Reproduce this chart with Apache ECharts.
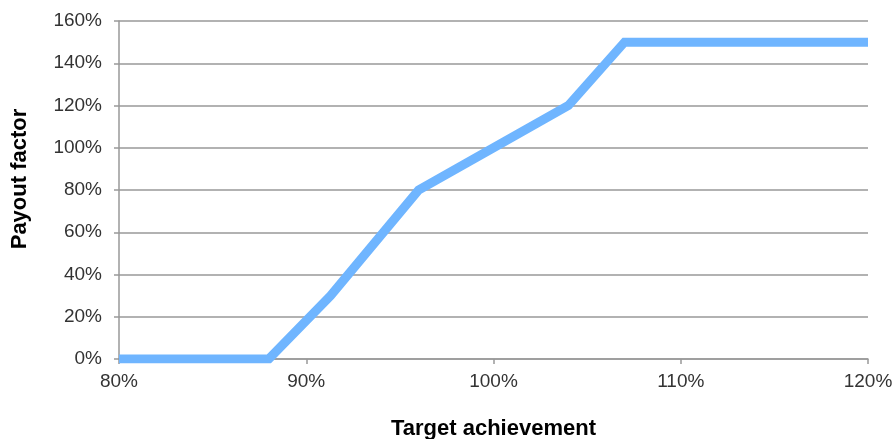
<!DOCTYPE html>
<html>
<head>
<meta charset="utf-8">
<script src="https://cdn.jsdelivr.net/npm/echarts@6/dist/echarts.min.js"></script>
<style>
  html, body { margin: 0; padding: 0; background: #fff; }
  #payoutChart { width: 896px; height: 439px; }
</style>
</head>
<body>
<div id="payoutChart"></div>
<script>
// target achievement (%) and payout factor (%)
var achievement = [80, 88, 91.3, 96, 100, 104, 107, 120]
var payout = [0, 0, 30, 80, 100, 120, 150, 150]

var points = achievement.map(function(x, i) {
  return [x, payout[i]]
})

var chart = echarts.init(document.getElementById('payoutChart'))
var option = {
  animation: false,
  textStyle: {
    fontFamily: 'Liberation Sans, Arial, sans-serif'
  },
  grid: {
    left: 119,
    right: 28,
    top: 21,
    bottom: 80,
    outerBoundsMode: 'none',
    containLabel: false
  },
  xAxis: {
    type: 'value',
    min: 80,
    max: 120,
    interval: 10,
    name: 'Target achievement',
    nameLocation: 'middle',
    nameGap: 59,
    nameTextStyle: {
      fontSize: 22,
      fontWeight: 'bold',
      color: '#000'
    },
    axisLine: {
      lineStyle: { color: '#999', width: 1.5 }
    },
    axisTick: {
      show: true,
      length: 5,
      lineStyle: { color: '#999', width: 1.5 }
    },
    axisLabel: {
      formatter: '{value}%',
      fontSize: 19,
      color: '#333',
      margin: 13
    },
    splitLine: { show: false }
  },
  yAxis: {
    type: 'value',
    min: 0,
    max: 160,
    interval: 20,
    name: 'Payout factor',
    nameLocation: 'middle',
    nameGap: 88,
    nameTextStyle: {
      fontSize: 22,
      fontWeight: 'bold',
      color: '#000',
      padding: [0, 0, 0, 22]
    },
    axisLine: {
      show: true,
      lineStyle: { color: '#999', width: 1.5 }
    },
    axisTick: {
      show: true,
      length: 5,
      lineStyle: { color: '#999', width: 1.5 }
    },
    axisLabel: {
      formatter: '{value}%',
      fontSize: 19,
      color: '#333',
      margin: 17
    },
    splitLine: {
      lineStyle: { color: '#999', width: 1.5 }
    }
  },
  series: [
    {
      type: 'line',
      data: points,
      symbol: 'none',
      lineStyle: {
        color: '#6fb5ff',
        width: 9,
        cap: 'butt',
        join: 'miter'
      }
    }
  ]
}
chart.setOption(option)
</script>
</body>
</html>
